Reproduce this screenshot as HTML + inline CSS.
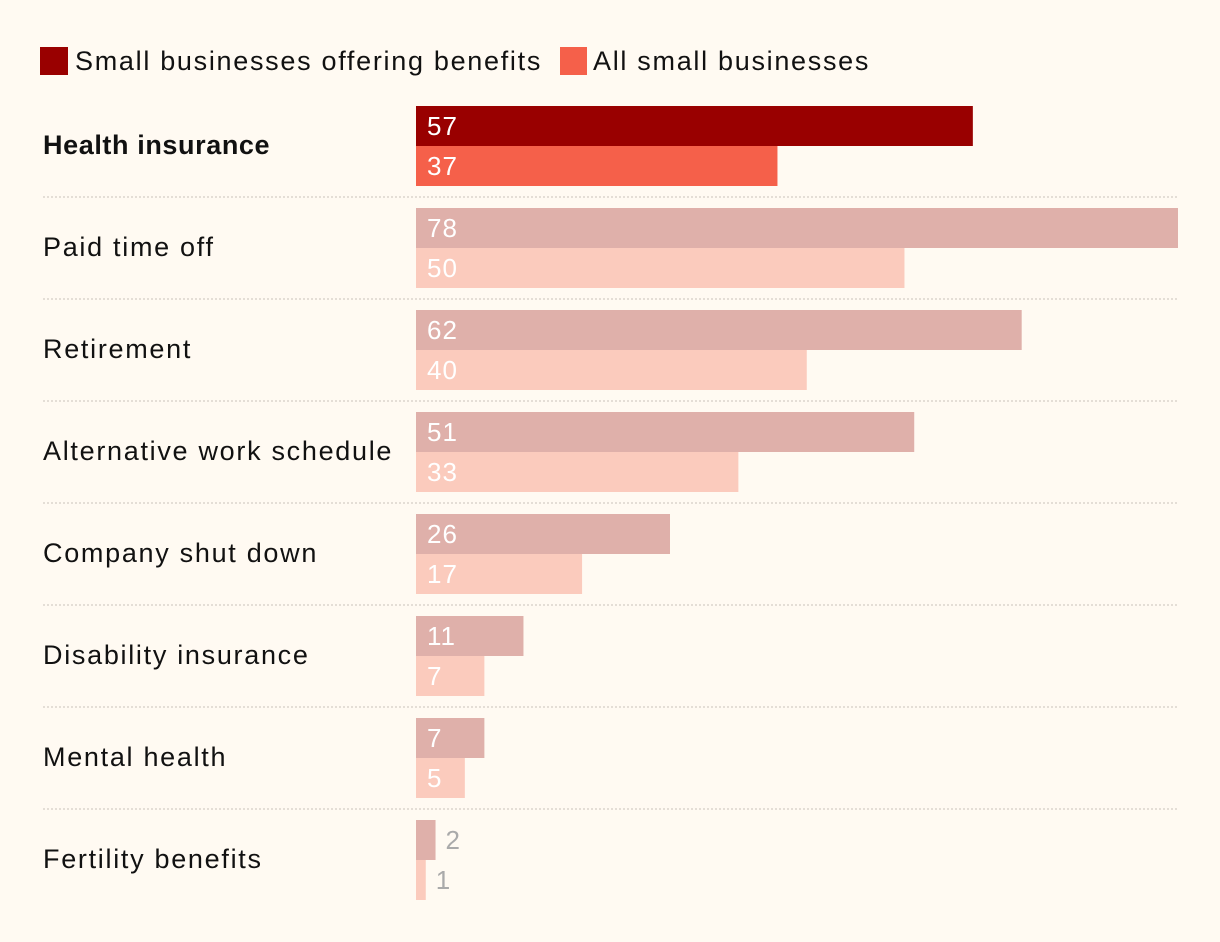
<!DOCTYPE html>
<html><head><meta charset="utf-8">
<style>
body{margin:0;background:#fffaf2;font-family:"Liberation Sans",sans-serif;}
svg{display:block}
text{letter-spacing:1.7px}
</style></head>
<body>
<svg id="chart" width="1220" height="942">
<rect width="1220" height="942" fill="#fffaf2"/>
<g>
<rect x="40" y="47" width="28" height="28" fill="#990000"/>
<text x="75" y="70" font-size="27" fill="#111">Small businesses offering benefits</text>
<rect x="560" y="47" width="27" height="28" fill="#f5604a"/>
<text x="593" y="70" font-size="27" fill="#111">All small businesses</text>
</g>
<g id="rows"></g>
</svg>
<script>
const categories=["Health insurance","Paid time off","Retirement","Alternative work schedule","Company shut down","Disability insurance","Mental health","Fertility benefits"];
const offering=[57,78,62,51,26,11,7,2];
const allSmall=[37,50,40,33,17,7,5,1];
const NS="http://www.w3.org/2000/svg";
const g=document.getElementById('rows');
const x0=416, scale=762/78, top0=106, rowH=102, barH=40;
function xs(v){return v*scale;}
function mk(tag,attrs){const e=document.createElementNS(NS,tag);for(const k in attrs)e.setAttribute(k,attrs[k]);return e;}
categories.forEach((c,i)=>{
  const y=top0+i*rowH, hi=i===0;
  const t=mk('text',{x:43,y:y+48,'font-size':27,fill:'#111','font-weight':hi?'bold':'normal'});
  if(hi) t.setAttribute('style','letter-spacing:0.6px');
  t.textContent=c;
  
  
  g.appendChild(t);
  [[offering[i],hi?'#990000':'#dfb0aa',0],[allSmall[i],hi?'#f5604a':'#fbcbbd',1]].forEach(([v,col,k])=>{
    const w=xs(v);
    const r=mk('rect',{x:x0,y:y+k*barH,width:w,height:barH,fill:col});
    
    
    g.appendChild(r);
    const inside=w>40;
    const l=mk('text',{x:inside?x0+11:x0+w+10,y:y+k*barH+29,'font-size':26,fill:inside?'#fff':'#aaa',style:'letter-spacing:1px'});
    l.textContent=v;
    
    
    g.appendChild(l);
  });
  if(i<categories.length-1){
    const s=mk('line',{x1:43,x2:1178,y1:y+91,y2:y+91,stroke:'#c8c2ba','stroke-width':1,'stroke-dasharray':'2,2'});
    
    
    g.appendChild(s);
  }
});
</script>
</body></html>
